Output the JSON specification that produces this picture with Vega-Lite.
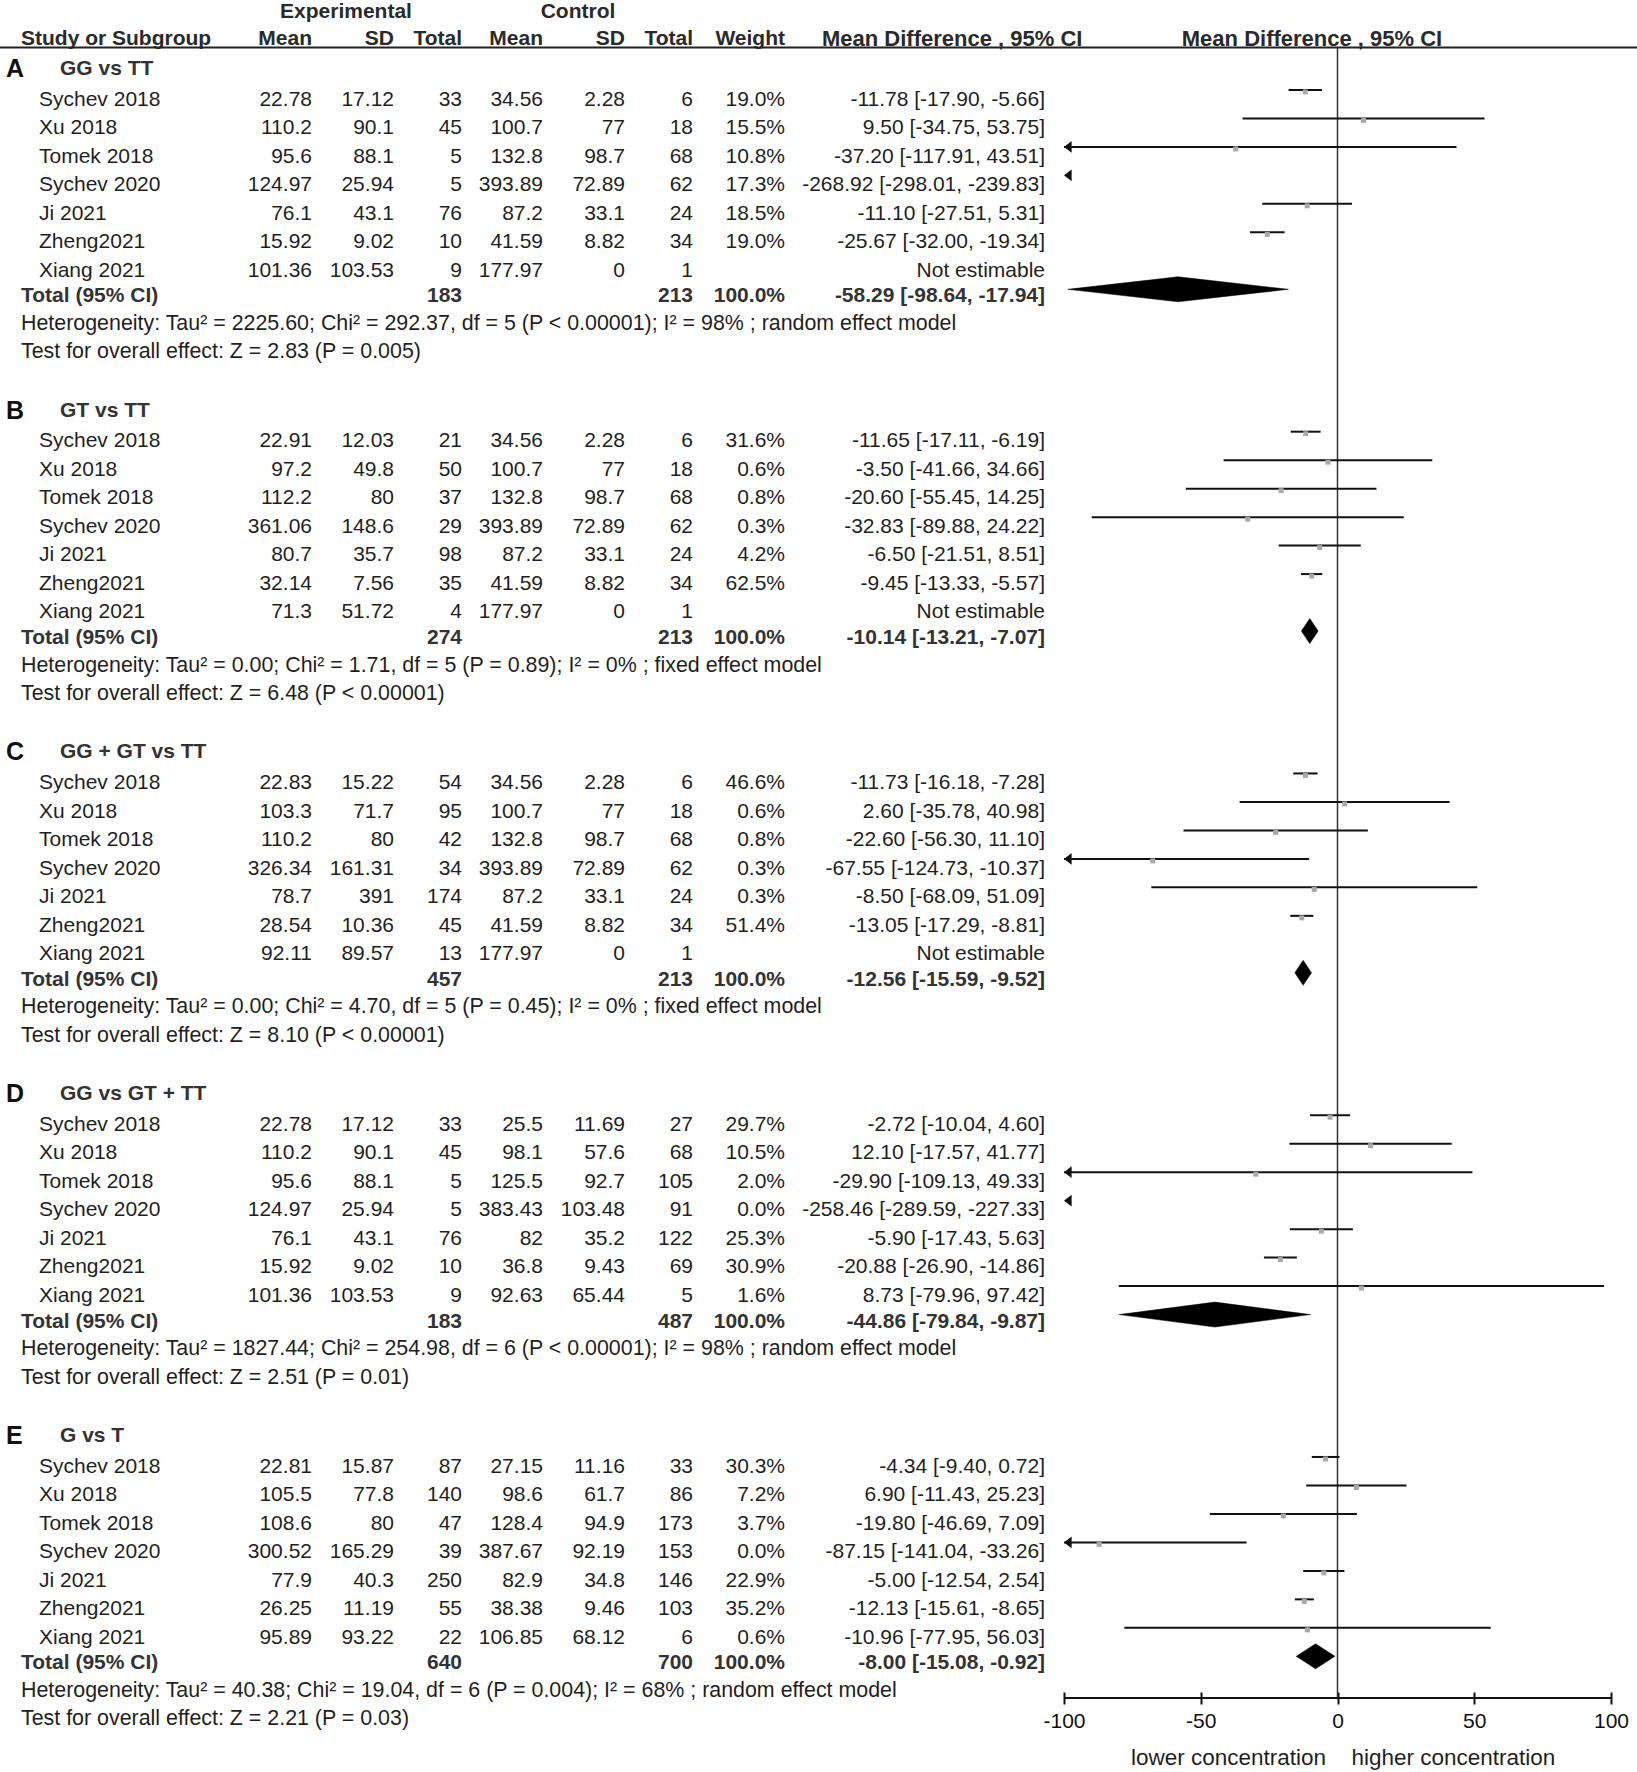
{
  "$schema": "https://vega.github.io/schema/vega-lite/v6.json",
  "width": 1637,
  "height": 1698,
  "autosize": {"type": "none"},
  "padding": {"left": 0, "top": 0, "right": 0, "bottom": 74},
  "background": "#ffffff",
  "config": {
    "view": {"stroke": null},
    "font": "Liberation Sans",
    "text": {"font": "Liberation Sans", "fontSize": 21, "color": "#1f1f1f", "baseline": "middle"}
  },
  "datasets": {
    "studies": [
      {"sec": "A", "k": 1, "study": "Sychev 2018", "me": "22.78", "sde": "17.12", "te": "33", "mc": "34.56", "sdc": "2.28", "tc": "6", "w": "19.0%", "ci": "-11.78 [-17.90, -5.66]", "md": -11.78, "lo": -17.90, "hi": -5.66},
      {"sec": "A", "k": 2, "study": "Xu 2018", "me": "110.2", "sde": "90.1", "te": "45", "mc": "100.7", "sdc": "77", "tc": "18", "w": "15.5%", "ci": "9.50 [-34.75, 53.75]", "md": 9.50, "lo": -34.75, "hi": 53.75},
      {"sec": "A", "k": 3, "study": "Tomek 2018", "me": "95.6", "sde": "88.1", "te": "5", "mc": "132.8", "sdc": "98.7", "tc": "68", "w": "10.8%", "ci": "-37.20 [-117.91, 43.51]", "md": -37.20, "lo": -117.91, "hi": 43.51},
      {"sec": "A", "k": 4, "study": "Sychev 2020", "me": "124.97", "sde": "25.94", "te": "5", "mc": "393.89", "sdc": "72.89", "tc": "62", "w": "17.3%", "ci": "-268.92 [-298.01, -239.83]", "md": -268.92, "lo": -298.01, "hi": -239.83},
      {"sec": "A", "k": 5, "study": "Ji 2021", "me": "76.1", "sde": "43.1", "te": "76", "mc": "87.2", "sdc": "33.1", "tc": "24", "w": "18.5%", "ci": "-11.10 [-27.51, 5.31]", "md": -11.10, "lo": -27.51, "hi": 5.31},
      {"sec": "A", "k": 6, "study": "Zheng2021", "me": "15.92", "sde": "9.02", "te": "10", "mc": "41.59", "sdc": "8.82", "tc": "34", "w": "19.0%", "ci": "-25.67 [-32.00, -19.34]", "md": -25.67, "lo": -32.00, "hi": -19.34},
      {"sec": "A", "k": 7, "study": "Xiang 2021", "me": "101.36", "sde": "103.53", "te": "9", "mc": "177.97", "sdc": "0", "tc": "1", "w": "", "ci": "Not estimable"},
      {"sec": "B", "k": 13, "study": "Sychev 2018", "me": "22.91", "sde": "12.03", "te": "21", "mc": "34.56", "sdc": "2.28", "tc": "6", "w": "31.6%", "ci": "-11.65 [-17.11, -6.19]", "md": -11.65, "lo": -17.11, "hi": -6.19},
      {"sec": "B", "k": 14, "study": "Xu 2018", "me": "97.2", "sde": "49.8", "te": "50", "mc": "100.7", "sdc": "77", "tc": "18", "w": "0.6%", "ci": "-3.50 [-41.66, 34.66]", "md": -3.50, "lo": -41.66, "hi": 34.66},
      {"sec": "B", "k": 15, "study": "Tomek 2018", "me": "112.2", "sde": "80", "te": "37", "mc": "132.8", "sdc": "98.7", "tc": "68", "w": "0.8%", "ci": "-20.60 [-55.45, 14.25]", "md": -20.60, "lo": -55.45, "hi": 14.25},
      {"sec": "B", "k": 16, "study": "Sychev 2020", "me": "361.06", "sde": "148.6", "te": "29", "mc": "393.89", "sdc": "72.89", "tc": "62", "w": "0.3%", "ci": "-32.83 [-89.88, 24.22]", "md": -32.83, "lo": -89.88, "hi": 24.22},
      {"sec": "B", "k": 17, "study": "Ji 2021", "me": "80.7", "sde": "35.7", "te": "98", "mc": "87.2", "sdc": "33.1", "tc": "24", "w": "4.2%", "ci": "-6.50 [-21.51, 8.51]", "md": -6.50, "lo": -21.51, "hi": 8.51},
      {"sec": "B", "k": 18, "study": "Zheng2021", "me": "32.14", "sde": "7.56", "te": "35", "mc": "41.59", "sdc": "8.82", "tc": "34", "w": "62.5%", "ci": "-9.45 [-13.33, -5.57]", "md": -9.45, "lo": -13.33, "hi": -5.57},
      {"sec": "B", "k": 19, "study": "Xiang 2021", "me": "71.3", "sde": "51.72", "te": "4", "mc": "177.97", "sdc": "0", "tc": "1", "w": "", "ci": "Not estimable"},
      {"sec": "C", "k": 25, "study": "Sychev 2018", "me": "22.83", "sde": "15.22", "te": "54", "mc": "34.56", "sdc": "2.28", "tc": "6", "w": "46.6%", "ci": "-11.73 [-16.18, -7.28]", "md": -11.73, "lo": -16.18, "hi": -7.28},
      {"sec": "C", "k": 26, "study": "Xu 2018", "me": "103.3", "sde": "71.7", "te": "95", "mc": "100.7", "sdc": "77", "tc": "18", "w": "0.6%", "ci": "2.60 [-35.78, 40.98]", "md": 2.60, "lo": -35.78, "hi": 40.98},
      {"sec": "C", "k": 27, "study": "Tomek 2018", "me": "110.2", "sde": "80", "te": "42", "mc": "132.8", "sdc": "98.7", "tc": "68", "w": "0.8%", "ci": "-22.60 [-56.30, 11.10]", "md": -22.60, "lo": -56.30, "hi": 11.10},
      {"sec": "C", "k": 28, "study": "Sychev 2020", "me": "326.34", "sde": "161.31", "te": "34", "mc": "393.89", "sdc": "72.89", "tc": "62", "w": "0.3%", "ci": "-67.55 [-124.73, -10.37]", "md": -67.55, "lo": -124.73, "hi": -10.37},
      {"sec": "C", "k": 29, "study": "Ji 2021", "me": "78.7", "sde": "391", "te": "174", "mc": "87.2", "sdc": "33.1", "tc": "24", "w": "0.3%", "ci": "-8.50 [-68.09, 51.09]", "md": -8.50, "lo": -68.09, "hi": 51.09},
      {"sec": "C", "k": 30, "study": "Zheng2021", "me": "28.54", "sde": "10.36", "te": "45", "mc": "41.59", "sdc": "8.82", "tc": "34", "w": "51.4%", "ci": "-13.05 [-17.29, -8.81]", "md": -13.05, "lo": -17.29, "hi": -8.81},
      {"sec": "C", "k": 31, "study": "Xiang 2021", "me": "92.11", "sde": "89.57", "te": "13", "mc": "177.97", "sdc": "0", "tc": "1", "w": "", "ci": "Not estimable"},
      {"sec": "D", "k": 37, "study": "Sychev 2018", "me": "22.78", "sde": "17.12", "te": "33", "mc": "25.5", "sdc": "11.69", "tc": "27", "w": "29.7%", "ci": "-2.72 [-10.04, 4.60]", "md": -2.72, "lo": -10.04, "hi": 4.60},
      {"sec": "D", "k": 38, "study": "Xu 2018", "me": "110.2", "sde": "90.1", "te": "45", "mc": "98.1", "sdc": "57.6", "tc": "68", "w": "10.5%", "ci": "12.10 [-17.57, 41.77]", "md": 12.10, "lo": -17.57, "hi": 41.77},
      {"sec": "D", "k": 39, "study": "Tomek 2018", "me": "95.6", "sde": "88.1", "te": "5", "mc": "125.5", "sdc": "92.7", "tc": "105", "w": "2.0%", "ci": "-29.90 [-109.13, 49.33]", "md": -29.90, "lo": -109.13, "hi": 49.33},
      {"sec": "D", "k": 40, "study": "Sychev 2020", "me": "124.97", "sde": "25.94", "te": "5", "mc": "383.43", "sdc": "103.48", "tc": "91", "w": "0.0%", "ci": "-258.46 [-289.59, -227.33]", "md": -258.46, "lo": -289.59, "hi": -227.33},
      {"sec": "D", "k": 41, "study": "Ji 2021", "me": "76.1", "sde": "43.1", "te": "76", "mc": "82", "sdc": "35.2", "tc": "122", "w": "25.3%", "ci": "-5.90 [-17.43, 5.63]", "md": -5.90, "lo": -17.43, "hi": 5.63},
      {"sec": "D", "k": 42, "study": "Zheng2021", "me": "15.92", "sde": "9.02", "te": "10", "mc": "36.8", "sdc": "9.43", "tc": "69", "w": "30.9%", "ci": "-20.88 [-26.90, -14.86]", "md": -20.88, "lo": -26.90, "hi": -14.86},
      {"sec": "D", "k": 43, "study": "Xiang 2021", "me": "101.36", "sde": "103.53", "te": "9", "mc": "92.63", "sdc": "65.44", "tc": "5", "w": "1.6%", "ci": "8.73 [-79.96, 97.42]", "md": 8.73, "lo": -79.96, "hi": 97.42},
      {"sec": "E", "k": 49, "study": "Sychev 2018", "me": "22.81", "sde": "15.87", "te": "87", "mc": "27.15", "sdc": "11.16", "tc": "33", "w": "30.3%", "ci": "-4.34 [-9.40, 0.72]", "md": -4.34, "lo": -9.40, "hi": 0.72},
      {"sec": "E", "k": 50, "study": "Xu 2018", "me": "105.5", "sde": "77.8", "te": "140", "mc": "98.6", "sdc": "61.7", "tc": "86", "w": "7.2%", "ci": "6.90 [-11.43, 25.23]", "md": 6.90, "lo": -11.43, "hi": 25.23},
      {"sec": "E", "k": 51, "study": "Tomek 2018", "me": "108.6", "sde": "80", "te": "47", "mc": "128.4", "sdc": "94.9", "tc": "173", "w": "3.7%", "ci": "-19.80 [-46.69, 7.09]", "md": -19.80, "lo": -46.69, "hi": 7.09},
      {"sec": "E", "k": 52, "study": "Sychev 2020", "me": "300.52", "sde": "165.29", "te": "39", "mc": "387.67", "sdc": "92.19", "tc": "153", "w": "0.0%", "ci": "-87.15 [-141.04, -33.26]", "md": -87.15, "lo": -141.04, "hi": -33.26},
      {"sec": "E", "k": 53, "study": "Ji 2021", "me": "77.9", "sde": "40.3", "te": "250", "mc": "82.9", "sdc": "34.8", "tc": "146", "w": "22.9%", "ci": "-5.00 [-12.54, 2.54]", "md": -5.00, "lo": -12.54, "hi": 2.54},
      {"sec": "E", "k": 54, "study": "Zheng2021", "me": "26.25", "sde": "11.19", "te": "55", "mc": "38.38", "sdc": "9.46", "tc": "103", "w": "35.2%", "ci": "-12.13 [-15.61, -8.65]", "md": -12.13, "lo": -15.61, "hi": -8.65},
      {"sec": "E", "k": 55, "study": "Xiang 2021", "me": "95.89", "sde": "93.22", "te": "22", "mc": "106.85", "sdc": "68.12", "tc": "6", "w": "0.6%", "ci": "-10.96 [-77.95, 56.03]", "md": -10.96, "lo": -77.95, "hi": 56.03}
    ],
    "totals": [
      {"sec": "A", "k": 8, "label": "Total (95% CI)", "te": "183", "tc": "213", "w": "100.0%", "ci": "-58.29 [-98.64, -17.94]", "md": -58.29, "lo": -98.64, "hi": -17.94},
      {"sec": "B", "k": 20, "label": "Total (95% CI)", "te": "274", "tc": "213", "w": "100.0%", "ci": "-10.14 [-13.21, -7.07]", "md": -10.14, "lo": -13.21, "hi": -7.07},
      {"sec": "C", "k": 32, "label": "Total (95% CI)", "te": "457", "tc": "213", "w": "100.0%", "ci": "-12.56 [-15.59, -9.52]", "md": -12.56, "lo": -15.59, "hi": -9.52},
      {"sec": "D", "k": 44, "label": "Total (95% CI)", "te": "183", "tc": "487", "w": "100.0%", "ci": "-44.86 [-79.84, -9.87]", "md": -44.86, "lo": -79.84, "hi": -9.87},
      {"sec": "E", "k": 56, "label": "Total (95% CI)", "te": "640", "tc": "700", "w": "100.0%", "ci": "-8.00 [-15.08, -0.92]", "md": -8.00, "lo": -15.08, "hi": -0.92}
    ],
    "sections": [
      {"k": 0, "letter": "A", "title": "GG vs TT"},
      {"k": 12, "letter": "B", "title": "GT vs TT"},
      {"k": 24, "letter": "C", "title": "GG + GT vs TT"},
      {"k": 36, "letter": "D", "title": "GG vs GT + TT"},
      {"k": 48, "letter": "E", "title": "G vs T"}
    ],
    "notes": [
      {"k": 9, "note": "Heterogeneity: Tau² = 2225.60; Chi² = 292.37, df = 5 (P < 0.00001); I² = 98% ; random effect model"},
      {"k": 10, "note": "Test for overall effect: Z = 2.83 (P = 0.005)"},
      {"k": 21, "note": "Heterogeneity: Tau² = 0.00; Chi² = 1.71, df = 5 (P = 0.89); I² = 0% ; fixed effect model"},
      {"k": 22, "note": "Test for overall effect: Z = 6.48 (P < 0.00001)"},
      {"k": 33, "note": "Heterogeneity: Tau² = 0.00; Chi² = 4.70, df = 5 (P = 0.45); I² = 0% ; fixed effect model"},
      {"k": 34, "note": "Test for overall effect: Z = 8.10 (P < 0.00001)"},
      {"k": 45, "note": "Heterogeneity: Tau² = 1827.44; Chi² = 254.98, df = 6 (P < 0.00001); I² = 98% ; random effect model"},
      {"k": 46, "note": "Test for overall effect: Z = 2.51 (P = 0.01)"},
      {"k": 57, "note": "Heterogeneity: Tau² = 40.38; Chi² = 19.04, df = 6 (P = 0.004); I² = 68% ; random effect model"},
      {"k": 58, "note": "Test for overall effect: Z = 2.21 (P = 0.03)"}
    ],
    "header_left": [
      {"k": -1, "c": 1, "label": "Study or Subgroup"}
    ],
    "header_md": [
      {"k": -1, "c": 13, "label": "Mean Difference , 95% CI", "pos": "table"},
      {"k": -1, "c": 15, "label": "Mean Difference , 95% CI", "pos": "plot"}
    ],
    "header_center": [
      {"k": -2, "c": 5, "label": "Experimental"},
      {"k": -2, "c": 9, "label": "Control"}
    ],
    "header_right": [
      {"k": -1, "c": 4, "label": "Mean"},
      {"k": -1, "c": 6, "label": "SD"},
      {"k": -1, "c": 7, "label": "Total"},
      {"k": -1, "c": 8, "label": "Mean"},
      {"k": -1, "c": 10, "label": "SD"},
      {"k": -1, "c": 11, "label": "Total"},
      {"k": -1, "c": 12, "label": "Weight"}
    ],
    "direction": [
      {"side": "lower", "label": "lower concentration"},
      {"side": "higher", "label": "higher concentration"}
    ]
  },
  "resolve": {"scale": {"x": "independent", "y": "independent"}},
  "layer": [
    {
      "layer": [
        {"data": {"name": "header_left"}, "mark": {"type": "text", "align": "left", "fontWeight": "bold", "color": "#2a2a2a"},
         "encoding": {"x": {"field": "c", "type": "quantitative", "axis": null, "scale": {"domain": [0,1,2,3,4,5,6,7,8,9,10,11,12,13,14,15], "range": [6,21,39,60,312,346,394,462,543,578,625,693,785,822,1045,1312], "nice": false, "zero": false}},
                      "y": {"field": "k", "type": "quantitative", "axis": null, "scale": {"domain": [-2.386, 57.235], "reverse": true, "nice": false, "zero": false}},
                      "text": {"field": "label"}}},
        {"data": {"name": "header_md"}, "transform": [{"filter": "datum.pos === 'table'"}], "mark": {"type": "text", "align": "left", "fontWeight": "bold", "fontSize": 22, "color": "#2a2a2a"},
         "encoding": {"x": {"field": "c", "type": "quantitative", "axis": null}, "y": {"field": "k", "type": "quantitative", "axis": null}, "text": {"field": "label"}}},
        {"data": {"name": "header_md"}, "transform": [{"filter": "datum.pos === 'plot'"}], "mark": {"type": "text", "align": "center", "fontWeight": "bold", "fontSize": 22, "color": "#2a2a2a"},
         "encoding": {"x": {"field": "c", "type": "quantitative", "axis": null}, "y": {"field": "k", "type": "quantitative", "axis": null}, "text": {"field": "label"}}},
        {"data": {"name": "header_center"}, "mark": {"type": "text", "align": "center", "fontWeight": "bold", "color": "#2a2a2a", "dy": 1},
         "encoding": {"x": {"field": "c", "type": "quantitative", "axis": null}, "y": {"field": "k", "type": "quantitative", "axis": null}, "text": {"field": "label"}}},
        {"data": {"name": "header_right"}, "mark": {"type": "text", "align": "right", "fontWeight": "bold", "color": "#2a2a2a"},
         "encoding": {"x": {"field": "c", "type": "quantitative", "axis": null}, "y": {"field": "k", "type": "quantitative", "axis": null}, "text": {"field": "label"}}},
        {"data": {"name": "sections"}, "mark": {"type": "text", "align": "left", "fontWeight": "bold", "fontSize": 25, "color": "#111111", "dy": 1},
         "encoding": {"x": {"datum": 0, "type": "quantitative", "axis": null}, "y": {"field": "k", "type": "quantitative", "axis": null}, "text": {"field": "letter"}}},
        {"data": {"name": "sections"}, "mark": {"type": "text", "align": "left", "fontWeight": "bold", "color": "#333333", "dy": 1},
         "encoding": {"x": {"datum": 3, "type": "quantitative", "axis": null}, "y": {"field": "k", "type": "quantitative", "axis": null}, "text": {"field": "title"}}},
        {"data": {"name": "notes"}, "mark": {"type": "text", "align": "left", "fontSize": 21.4, "dy": -0.5},
         "encoding": {"x": {"datum": 1, "type": "quantitative", "axis": null}, "y": {"field": "k", "type": "quantitative", "axis": null}, "text": {"field": "note"}}},
        {"data": {"name": "studies"}, "mark": {"type": "text", "align": "left", "dy": 3.3},
         "encoding": {"x": {"datum": 2, "type": "quantitative", "axis": null}, "y": {"field": "k", "type": "quantitative", "axis": null}, "text": {"field": "study"}}},
        {"data": {"name": "studies"}, "mark": {"type": "text", "align": "right", "dy": 3.3},
         "encoding": {"x": {"datum": 4, "type": "quantitative", "axis": null}, "y": {"field": "k", "type": "quantitative", "axis": null}, "text": {"field": "me"}}},
        {"data": {"name": "studies"}, "mark": {"type": "text", "align": "right", "dy": 3.3},
         "encoding": {"x": {"datum": 6, "type": "quantitative", "axis": null}, "y": {"field": "k", "type": "quantitative", "axis": null}, "text": {"field": "sde"}}},
        {"data": {"name": "studies"}, "mark": {"type": "text", "align": "right", "dy": 3.3},
         "encoding": {"x": {"datum": 7, "type": "quantitative", "axis": null}, "y": {"field": "k", "type": "quantitative", "axis": null}, "text": {"field": "te"}}},
        {"data": {"name": "studies"}, "mark": {"type": "text", "align": "right", "dy": 3.3},
         "encoding": {"x": {"datum": 8, "type": "quantitative", "axis": null}, "y": {"field": "k", "type": "quantitative", "axis": null}, "text": {"field": "mc"}}},
        {"data": {"name": "studies"}, "mark": {"type": "text", "align": "right", "dy": 3.3},
         "encoding": {"x": {"datum": 10, "type": "quantitative", "axis": null}, "y": {"field": "k", "type": "quantitative", "axis": null}, "text": {"field": "sdc"}}},
        {"data": {"name": "studies"}, "mark": {"type": "text", "align": "right", "dy": 3.3},
         "encoding": {"x": {"datum": 11, "type": "quantitative", "axis": null}, "y": {"field": "k", "type": "quantitative", "axis": null}, "text": {"field": "tc"}}},
        {"data": {"name": "studies"}, "mark": {"type": "text", "align": "right", "dy": 3.3},
         "encoding": {"x": {"datum": 12, "type": "quantitative", "axis": null}, "y": {"field": "k", "type": "quantitative", "axis": null}, "text": {"field": "w"}}},
        {"data": {"name": "studies"}, "mark": {"type": "text", "align": "right", "dy": 3.3},
         "encoding": {"x": {"datum": 14, "type": "quantitative", "axis": null}, "y": {"field": "k", "type": "quantitative", "axis": null}, "text": {"field": "ci"}}},
        {"data": {"name": "totals"}, "mark": {"type": "text", "align": "left", "fontWeight": "bold", "color": "#333333", "dy": 0.5},
         "encoding": {"x": {"datum": 1, "type": "quantitative", "axis": null}, "y": {"field": "k", "type": "quantitative", "axis": null}, "text": {"field": "label"}}},
        {"data": {"name": "totals"}, "mark": {"type": "text", "align": "right", "fontWeight": "bold", "color": "#333333", "dy": 0.5},
         "encoding": {"x": {"datum": 7, "type": "quantitative", "axis": null}, "y": {"field": "k", "type": "quantitative", "axis": null}, "text": {"field": "te"}}},
        {"data": {"name": "totals"}, "mark": {"type": "text", "align": "right", "fontWeight": "bold", "color": "#333333", "dy": 0.5},
         "encoding": {"x": {"datum": 11, "type": "quantitative", "axis": null}, "y": {"field": "k", "type": "quantitative", "axis": null}, "text": {"field": "tc"}}},
        {"data": {"name": "totals"}, "mark": {"type": "text", "align": "right", "fontWeight": "bold", "color": "#333333", "dy": 0.5},
         "encoding": {"x": {"datum": 12, "type": "quantitative", "axis": null}, "y": {"field": "k", "type": "quantitative", "axis": null}, "text": {"field": "w"}}},
        {"data": {"name": "totals"}, "mark": {"type": "text", "align": "right", "fontWeight": "bold", "color": "#333333", "dy": 0.5},
         "encoding": {"x": {"datum": 14, "type": "quantitative", "axis": null}, "y": {"field": "k", "type": "quantitative", "axis": null}, "text": {"field": "ci"}}}
      ]
    },
    {
      "layer": [
        {"data": {"values": [{}]}, "mark": {"type": "rule", "color": "#222222", "strokeWidth": 2},
         "encoding": {"y": {"datum": -0.72, "type": "quantitative", "axis": null, "scale": {"domain": [-2.386, 57.235], "reverse": true, "nice": false, "zero": false}}}},
        {"data": {"values": [{}]}, "mark": {"type": "rule", "color": "#333333", "strokeWidth": 1.5},
         "encoding": {"x": {"datum": 0, "type": "quantitative", "scale": {"domain": [-100, 100], "range": [1064, 1611], "clamp": true, "nice": false, "zero": false},
                            "axis": {"values": [-100, -50, 0, 50, 100], "domain": false, "grid": false, "tickSize": 12, "offset": -6, "tickWidth": 2, "tickColor": "#111111", "labelFontSize": 21, "labelFont": "Liberation Sans", "labelColor": "#111111", "labelPadding": 6, "title": null, "labelFlush": false, "labelExpr": "toString(datum.value)"}},
                      "y": {"datum": -0.72, "type": "quantitative", "axis": null}, "y2": {"datum": 57.235}}},
        {"data": {"values": [{}]}, "mark": {"type": "rule", "color": "#111111", "strokeWidth": 2},
         "encoding": {"x": {"datum": -100, "type": "quantitative"}, "x2": {"datum": 100},
                      "y": {"datum": 57.235, "type": "quantitative", "axis": null}}},
        {"data": {"name": "studies"}, "transform": [{"filter": "isValid(datum.lo)"}],
         "mark": {"type": "rule", "color": "#111111", "strokeWidth": 2, "yOffset": -6.5},
         "encoding": {"x": {"field": "lo", "type": "quantitative"}, "x2": {"field": "hi"},
                      "y": {"field": "k", "type": "quantitative", "axis": null}}},
        {"data": {"name": "studies"}, "transform": [{"filter": "isValid(datum.md) && datum.md >= -100"}],
         "mark": {"type": "point", "shape": "square", "filled": true, "size": 25, "color": "#a8a8a8", "opacity": 1, "yOffset": -4.5},
         "encoding": {"x": {"field": "md", "type": "quantitative"},
                      "y": {"field": "k", "type": "quantitative", "axis": null}}},
        {"data": {"name": "studies"}, "transform": [{"filter": "isValid(datum.lo) && datum.lo < -100"}],
         "mark": {"type": "point", "shape": "M-0.65,0L0.65,-1L0.65,1Z", "filled": true, "size": 137, "color": "#111111", "opacity": 1, "xOffset": 3.8, "yOffset": -6.5},
         "encoding": {"x": {"field": "lo", "type": "quantitative"},
                      "y": {"field": "k", "type": "quantitative", "axis": null}}},
        {"data": {"name": "direction"}, "transform": [{"filter": "datum.side === 'lower'"}],
         "mark": {"type": "text", "align": "right", "dx": -11.5, "fontSize": 22.5},
         "encoding": {"x": {"datum": 0, "type": "quantitative"}, "y": {"datum": 59.34, "type": "quantitative", "axis": null}, "text": {"field": "label"}}},
        {"data": {"name": "direction"}, "transform": [{"filter": "datum.side === 'higher'"}],
         "mark": {"type": "text", "align": "left", "dx": 14, "fontSize": 22.5},
         "encoding": {"x": {"datum": 0, "type": "quantitative"}, "y": {"datum": 59.34, "type": "quantitative", "axis": null}, "text": {"field": "label"}}}
      ]
    },
    {
      "data": {"name": "totals"},
      "transform": [
        {"fold": ["lo", "md", "hi", "md"], "as": ["vertex", "value"]},
        {"window": [{"op": "row_number", "as": "vi"}], "groupby": ["sec"]}
      ],
      "mark": {"type": "line", "interpolate": "linear-closed", "fill": "#000000", "stroke": "#000000", "strokeWidth": 0.5},
      "encoding": {
        "x": {"field": "value", "type": "quantitative", "axis": null, "scale": {"domain": [-100, 100], "range": [1064, 1611], "clamp": true, "nice": false, "zero": false}},
        "y": {"field": "k", "type": "ordinal", "axis": null, "scale": {"type": "band", "domain": [8,9,10,11,12,13,14,15,16,17,18,19,20,21,22,23,24,25,26,27,28,29,30,31,32,33,34,35,36,37,38,39,40,41,42,43,44,45,46,47,48,49,50,51,52,53,54,55,56], "range": [281.56, 1677.08], "paddingInner": 0, "paddingOuter": 0}},
        "yOffset": {"field": "vi", "type": "quantitative", "scale": {"domain": [1, 2, 3, 4], "range": [7.74, -4.76, 7.74, 20.24], "nice": false, "zero": false}},
        "detail": {"field": "sec"},
        "order": {"field": "vi"}
      }
    }
  ]
}
